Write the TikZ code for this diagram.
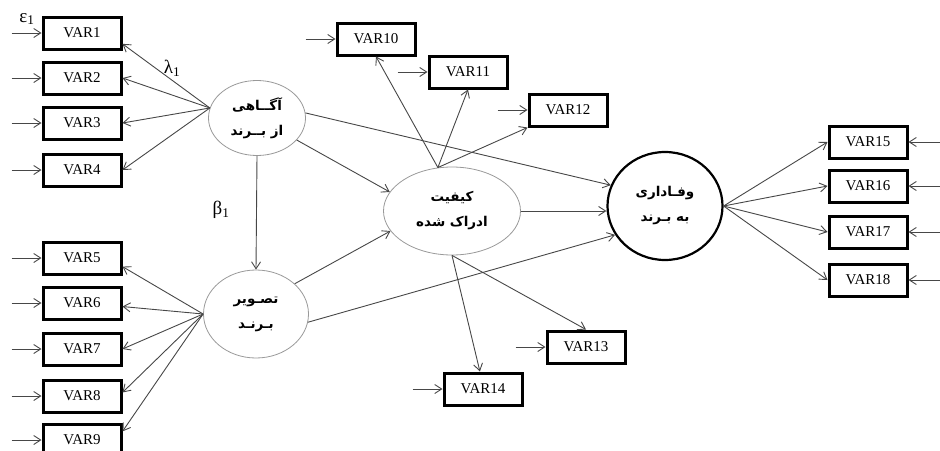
\documentclass[tikz,border=0pt]{standalone}
\usepackage{fontspec}
\setmainfont{Liberation Serif}
\newfontfamily\arabicfont[Script=Arabic]{DejaVu Sans}
\TeXXeTstate=1
\usetikzlibrary{shapes.geometric,arrows.meta}
\newcommand{\fa}[1]{{\arabicfont\bfseries\beginR #1\endR}}
\tikzset{
  var/.style={draw,line width=3pt,minimum width=78,minimum height=32,inner sep=0,font=\fontsize{15}{17}\selectfont},
  lat/.style={draw=black!40,line width=0.8pt,ellipse,inner sep=0,align=center,font=\fontsize{13.5}{25}\selectfont},
  link/.style={draw=black!72,line width=0.9pt,-{Straight Barb[length=7pt,width=9pt]}},
  err/.style={link},
  coef/.style={font=\fontsize{19}{19}\selectfont}
}
\begin{document}
\begin{tikzpicture}[x=1pt,y=-1pt]
  \useasboundingbox (0,0) rectangle (940,450);
  %% latent variables
  \node[lat,minimum width=97,minimum height=75] (awr) at (257,118) {\fa{آگــاهی}\\\fa{از بــرند}};
  \node[lat,minimum width=105,minimum height=88] (img) at (256,314) {\fa{تصـویر}\\\fa{بـرنـد}};
  \node[lat,minimum width=137,minimum height=88] (pq) at (452,211) {\fa{کیفیت}\\\fa{ادراک شده}};
  \node[lat,draw=black,line width=2.2pt,minimum width=115,minimum height=108] (loyal) at (665,206) {\fa{وفـاداری}\\\fa{به بـرند}};
  %% observed variables
  \foreach \n/\y in {1/33,2/78,3/123,4/170,5/258,6/303,7/349,8/396,9/440}
    \node[var] (v\n) at (82,\y) {VAR\n};
  \node[var] (v10) at (376,39) {VAR10};
  \node[var] (v11) at (468,72) {VAR11};
  \node[var] (v12) at (568,110) {VAR12};
  \node[var] (v13) at (586,347) {VAR13};
  \node[var] (v14) at (483,389) {VAR14};
  \foreach \n/\y in {15/142,16/186,17/232,18/280}
    \node[var] (v\n) at (868,\y) {VAR\n};
  %% error terms
  \foreach \n in {1,...,14}
    \draw[err] ([xshift=-30]v\n.west) -- (v\n.west);
  \foreach \n in {15,...,18}
    \draw[err] ([xshift=33]v\n.east) -- (v\n.east);
  %% loadings
  \draw[link] (awr.168) -- (v1.-15);
  \foreach \n in {2,3,4}
    \draw[link] (awr.168) -- (v\n.east);
  \draw[link] (img.west) -- (v5.-12);
  \foreach \n/\a in {6/-5,7/0,8/5,9/12}
    \draw[link] (img.west) -- (v\n.\a);
  \draw[link] (pq.108) -- (v10.south);
  \draw[link] (pq.108) -- (v11.south);
  \draw[link] (pq.108) -- (v12.south west);
  \draw[link] (pq.south) -- (v13.north);
  \draw[link] (pq.south) -- (v14.100);
  \foreach \n in {15,...,18}
    \draw[link] (loyal.east) -- (v\n.west);
  %% structural paths
  \draw[link] (awr.south) -- (img.north);
  \draw[link] (awr.-29) -- (pq.163);
  \draw[link] (awr.6) -- (loyal.159);
  \draw[link] (img.38) -- (pq.198);
  \draw[link] (img.-9) -- (loyal.210);
  \draw[link] (pq.east) -- (pq.east -| loyal.west);
  %% labels
  \node[coef] (eps) at (27,19) {ε\textsubscript{1}};
  \node[coef] (lam) at (172,68) {λ\textsubscript{1}};
  \node[coef] (bet) at (221,210) {β\textsubscript{1}};
\end{tikzpicture}
\end{document}
